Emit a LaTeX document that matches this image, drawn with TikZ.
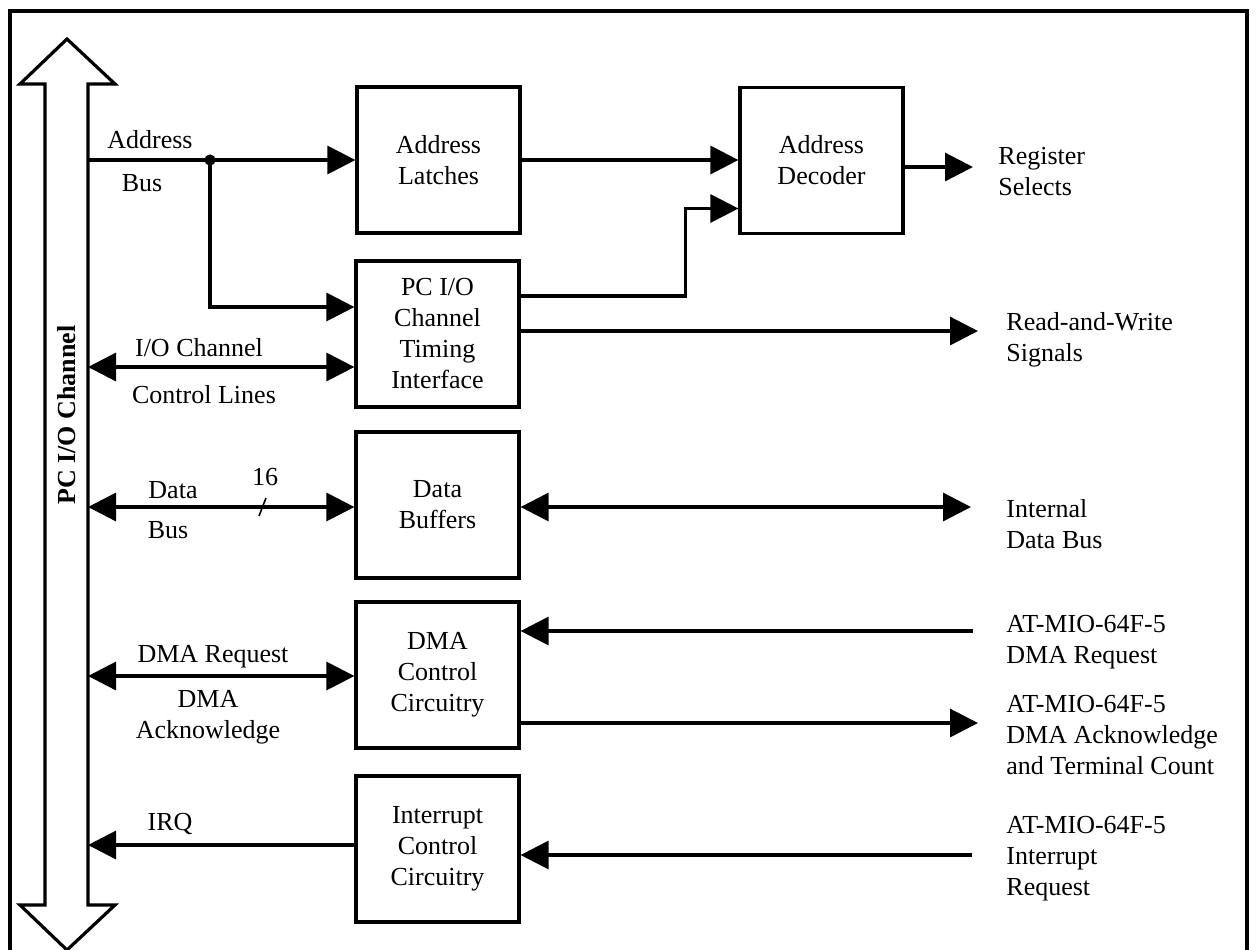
\documentclass[tikz,border=0pt]{standalone}
\usepackage{fontspec}
\setmainfont{Liberation Serif}
\usetikzlibrary{arrows.meta}

\tikzset{
  blk/.style={draw, line width=1.6pt, minimum width=81.5pt, minimum height=73pt, align=center, inner sep=0pt},
  lbl/.style={align=center, inner sep=0pt},
  rlbl/.style={align=left, anchor=west, inner sep=0pt},
  sig/.style={line width=1.6pt, -{Triangle[length=14pt,width=14pt]}},
  bsig/.style={line width=1.6pt, {Triangle[length=14pt,width=14pt]}-{Triangle[length=14pt,width=14pt]}},
}

\begin{document}
\begin{tikzpicture}[x=0.5pt, y=-0.5pt, every node/.style={font=\fontsize{13}{15.5}\selectfont}]
		\useasboundingbox (0,0) rectangle (1257,949);
		% frame
		\draw[line width=1.6pt] (10,960) -- (10,11) -- (1247,11) -- (1247,960);
		
		% PC I/O channel bus
		\draw[line width=1.6pt, line join=miter] (67,39) -- (115,84) -- (88,84) -- (88,905) -- (115,905) -- (67,950)
			-- (20,905) -- (45,905) -- (45,84) -- (20,84) -- cycle;
		\node[rotate=90, font=\fontsize{13}{15.5}\selectfont\bfseries] (chan) at (67,415) {PC I/O Channel};
		
		% blocks
		\node[blk] (latch) at (438.5,160) {Address\\Latches};
		\node[blk] (dec) at (821.5,160.5) {Address\\Decoder};
		\node[blk] (pcio) at (437.5,334) {PC I/O\\Channel\\Timing\\Interface};
		\node[blk] (dbuf) at (437.5,505) {Data\\Buffers};
		\node[blk] (dma) at (437.5,675) {DMA\\Control\\Circuitry};
		\node[blk] (intr) at (437.5,849) {Interrupt\\Control\\Circuitry};
		
		% ends of the lines
		\coordinate (abus) at (88,160);
		\coordinate (jn) at (210,160);
		\coordinate (ctl) at (88,367);
		\coordinate (dbus) at (88,507);
		\coordinate (dmab) at (88,676);
		\coordinate (irq) at (88,845);
		\coordinate (rsel) at (973,167);
		\coordinate (rw) at (978,331);
		\coordinate (ibus) at (971,507);
		\coordinate (dreq) at (973,631);
		\coordinate (dack) at (978,723);
		\coordinate (ireq) at (972,855);
		
		% address path
		\draw[sig] (abus) -- (latch.west);
		\fill (jn) circle (2.8pt);
		\draw[sig] (jn) |- ([yshift=13.5pt]pcio.west);
		\draw[sig] (latch.east) -- (dec.west |- latch.east);
		\draw[sig] ([yshift=19pt]pcio.east) -- ++(82.5pt,0) |- ([yshift=-24pt]dec.west);
		\draw[sig] (rsel -| dec.east) -- (rsel);
		\draw[sig] (rw -| pcio.east) -- (rw);
		
		% bus side
		\draw[bsig] (ctl) -- (ctl -| pcio.west);
		\draw[bsig] (dbus) -- (dbus -| dbuf.west);
		\draw[line width=0.8pt] (259,516) -- (266,498);
		\draw[bsig] (dbuf.east |- ibus) -- (ibus);
		\draw[bsig] (dmab) -- (dmab -| dma.west);
		\draw[sig] (irq -| intr.west) -- (irq);
		
		% board side
		\draw[sig] (dreq) -- (dreq -| dma.east);
		\draw[sig] (dack -| dma.east) -- (dack);
		\draw[sig] (ireq) -- (ireq -| intr.east);
		
		% labels
		\node[lbl] (laddr) at (150,140) {Address};
		\node[lbl] (lbus) at (142,183) {Bus};
		\node[lbl] (lctl) at (199,348) {I/O Channel};
		\node[lbl] (lctl2) at (204,395) {Control Lines};
		\node[lbl] (ldata) at (173,490) {Data};
		\node[lbl] (ldbus) at (168,530) {Bus};
		\node[lbl] (lwid) at (265,477) {16};
		\node[lbl] (ldreq) at (213,657) {DMA Request};
		\node[lbl] (ldack) at (208,717) {DMA\\Acknowledge};
		\node[lbl] (lirq) at (170,824) {IRQ};
		
		\node[rlbl] (lrsel) at (998,172) {Register\\Selects};
		\node[rlbl] (lrw) at (1006,340) {Read-and-Write\\Signals};
		\node[rlbl] (libus) at (1006,524) {Internal\\Data Bus};
		\node[rlbl] (lreq) at (1006,642) {AT-MIO-64F-5\\DMA Request};
		\node[rlbl] (lack) at (1006,735) {AT-MIO-64F-5\\DMA Acknowledge\\and Terminal Count};
		\node[rlbl] (lireq) at (1006,859) {AT-MIO-64F-5\\Interrupt\\Request};
	\end{tikzpicture}
\end{document}
